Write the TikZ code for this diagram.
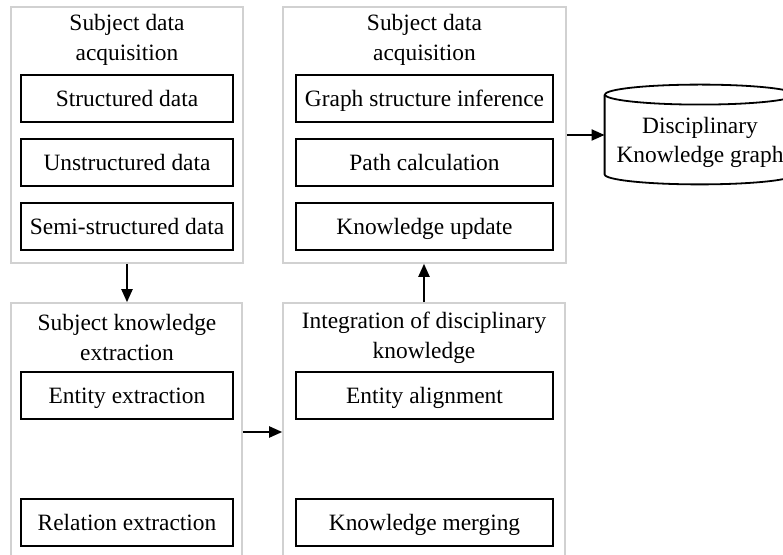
\documentclass[tikz,border=0pt]{standalone}
\usepackage{fontspec}
\setmainfont{Liberation Serif}
\usetikzlibrary{fit,arrows.meta}
\begin{document}
\begin{tikzpicture}[x=0.5pt,y=-0.5pt,
  font=\fontsize{11.7}{14.8}\selectfont,
  graybox/.style={draw=black!18,line width=0.8pt,inner sep=0pt},
  title/.style={align=center,inner sep=0pt},
  itembox/.style={draw=black,line width=1pt,minimum height=23.5pt,inner sep=0pt,align=center,text height=9.7pt,text depth=2pt},
  itemL/.style={itembox,minimum width=106pt},
  itemM/.style={itembox,minimum width=128.5pt},
  arr/.style={-{Triangle[length=6.5pt,width=5.5pt]},line width=1pt}]
\useasboundingbox (0,0) rectangle (783,555);
\clip (0,0) rectangle (783,555);
\fill[white] (0,0) rectangle (783,555);
% gray group boxes
\node[graybox,fit={(11,7) (243,263)}] (g1) {};
\node[graybox,fit={(283,7) (566,263)}] (g2) {};
\node[graybox,fit={(11,303) (242,561)}] (g3) {};
\node[graybox,fit={(283,303) (565,561)}] (g4) {};
% titles
\node[title] (t1) at (127,40) {Subject data\\acquisition};
\node[title] (t2) at (424.5,40) {Subject data\\acquisition};
\node[title] (t3) at (127,337.5) {Subject knowledge\\extraction};
\node[title] (t4) at (424,337.5) {Integration of disciplinary\\knowledge};
% items
\node[itemL] (a1) at (127,98.5) {Structured data};
\node[itemL] (a2) at (127,163) {Unstructured data};
\node[itemL] (a3) at (127,227) {Semi-structured data};
\node[itemM] (b1) at (424.5,98.5) {Graph structure inference};
\node[itemM] (b2) at (424.5,163) {Path calculation};
\node[itemM] (b3) at (424.5,227) {Knowledge update};
\node[itemL] (c1) at (127,395.5) {Entity extraction};
\node[itemL] (c2) at (127,523) {Relation extraction};
\node[itemM] (d1) at (424.5,395.5) {Entity alignment};
\node[itemM] (d2) at (424.5,523) {Knowledge merging};
% cylinder
\node[minimum width=95pt,minimum height=49.5pt,inner sep=0pt] (kg) at (700,134.5) {};
\draw[line width=0.9pt] ([yshift=-5pt]kg.north) ellipse [x radius=47.5pt,y radius=5pt];
\draw[line width=0.9pt] ([yshift=-5pt]kg.north west) -- ([yshift=5pt]kg.south west)
  arc[start angle=180,end angle=360,x radius=47.5pt,y radius=5pt] -- ([yshift=-5pt]kg.north east);
\node[title] (kgt) at (700,142.5) {Disciplinary\\Knowledge graph};
% connectors
\draw[arr] (g1.south) -- (g1.south |- g3.north);
\draw[arr] (g3.east) -- (g4.west);
\draw[arr] (g4.north) -- (g4.north |- g2.south);
\draw[arr] (g2.east) -- (g2.east -| kg.west);
\end{tikzpicture}
\end{document}
